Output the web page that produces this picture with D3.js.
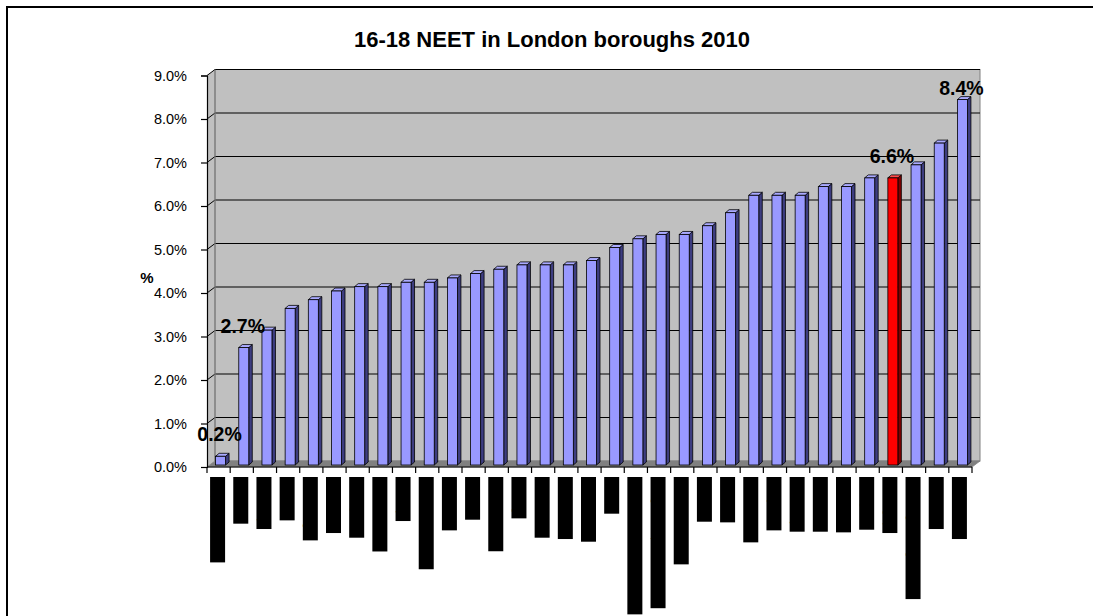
<!DOCTYPE html>
<html>
<head>
<meta charset="utf-8">
<script src="https://cdn.jsdelivr.net/npm/d3@7"></script>
<style>
  html, body { margin: 0; padding: 0; background: #fff; overflow: hidden; }
  svg { display: block; font-family: Arial, "Liberation Sans", Helvetica, sans-serif; }
</style>
</head>
<body>
<svg id="chart" width="1093" height="616"></svg>
<script>
// ---- data ----
const chartTitle = "16-18 NEET in London boroughs 2010";
const yAxisTitle = "%";
const categories = [
  "City of London", "Harrow", "Bromley", "Barnet", "Redbridge", "Havering",
  "Hillingdon", "Westminster", "Bexley", "Waltham Forest", "Camden", "Sutton",
  "Wandsworth", "Ealing", "Hounslow", "Lewisham", "Southwark", "Brent",
  "Hammersmith & Fulham", "Kingston upon Thames", "Tower Hamlets", "Enfield",
  "Merton", "Greenwich", "Croydon", "Hackney", "Lambeth", "Newham",
  "Islington", "Haringey", "Barking & Dagenham", "Chelsea", "Richmond"
];
const values = [
  0.2, 2.7, 3.1, 3.6, 3.8, 4.0, 4.1, 4.1, 4.2, 4.2, 4.3, 4.4,
  4.5, 4.6, 4.6, 4.6, 4.7, 5.0, 5.2, 5.3, 5.3, 5.5, 5.8, 6.2,
  6.2, 6.2, 6.4, 6.4, 6.6, 6.6, 6.9, 7.4, 8.4
];
const highlightedCategories = ["Haringey"];
const labelledCategories = ["City of London", "Harrow", "Haringey", "Richmond"];
const yTickValues = [0, 1, 2, 3, 4, 5, 6, 7, 8, 9];

// ---- layout ----
const svg = d3.select("#chart");
const W = 1093, H = 616;
const plot = { left: 207, right: 972, top: 75.5, bottom: 467 };
const depth = { dx: 8, dy: -6 };      // back wall offset
const barDepth = { dx: 3.5, dy: -3 }; // bar side/top depth
const barW = 10;

const data = categories.map((c, i) => ({ name: c, value: values[i] }));

const x = d3.scaleBand().domain(categories).range([plot.left, plot.right]).paddingInner(0).paddingOuter(0);
const y = d3.scaleLinear().domain([0, 9]).range([plot.bottom, plot.top]);

// outer border
svg.append("rect").attr("x", 7).attr("y", 7).attr("width", W + 20).attr("height", H + 20)
  .attr("fill", "#fff").attr("stroke", "#000").attr("stroke-width", 2);

// title
svg.append("text").attr("x", 552).attr("y", 46.5).attr("text-anchor", "middle")
  .attr("font-size", 22).attr("font-weight", "bold").attr("fill", "#000").text(chartTitle);

// ---- 3D walls ----
const bx0 = plot.left + depth.dx, bx1 = plot.right + depth.dx;
const by0 = plot.top + depth.dy, by1 = plot.bottom + depth.dy;
// left side wall
svg.append("path")
  .attr("d", `M${plot.left},${plot.top} L${bx0},${by0} L${bx0},${by1} L${plot.left},${plot.bottom} Z`)
  .attr("fill", "#c0c0c0").attr("stroke", "none");
// back wall
svg.append("rect").attr("x", bx0).attr("y", by0).attr("width", bx1 - bx0).attr("height", by1 - by0)
  .attr("fill", "#c0c0c0").attr("stroke", "#808080").attr("stroke-width", 1);
// floor
svg.append("path")
  .attr("d", `M${plot.left},${plot.bottom} L${bx0},${by1} L${bx1},${by1} L${plot.right},${plot.bottom} Z`)
  .attr("fill", "#808080").attr("stroke", "#808080").attr("stroke-width", 0.8);

// gridlines (back wall + side wall)
const grid = svg.append("g");
yTickValues.filter(v => v > 0).forEach(v => {
  grid.append("line").attr("x1", bx0).attr("x2", bx1).attr("y1", y(v) + depth.dy).attr("y2", y(v) + depth.dy)
    .attr("stroke", "#000").attr("stroke-width", 1);
  grid.append("line").attr("x1", plot.left).attr("x2", bx0).attr("y1", y(v)).attr("y2", y(v) + depth.dy)
    .attr("stroke", "#000").attr("stroke-width", 1);
});
// left edge of back wall
svg.append("line").attr("x1", bx0).attr("x2", bx0).attr("y1", by0).attr("y2", by1)
  .attr("stroke", "#808080").attr("stroke-width", 1.2);

// ---- bars ----
const bars = svg.append("g");
data.forEach(d => {
  const hl = highlightedCategories.includes(d.name);
  const front = hl ? "#ff0000" : "#9999ff";
  const side = hl ? "#800000" : "#3d3d80";
  const top = hl ? "#ff4d4d" : "#aaaaff";
  const cx = x(d.name) + x.bandwidth() / 2 + 2;
  const x0 = cx - barW / 2, x1 = cx + barW / 2;
  const yb = y(0) - 2, yt = y(d.value) - 2;
  const ddx = barDepth.dx, ddy = barDepth.dy;
  bars.append("path")
    .attr("d", `M${x1},${yt} L${x1 + ddx},${yt + ddy} L${x1 + ddx},${yb + ddy} L${x1},${yb} Z`)
    .attr("fill", side).attr("stroke", "#000").attr("stroke-width", 0.8).attr("stroke-linejoin", "round");
  bars.append("path")
    .attr("d", `M${x0},${yt} L${x0 + ddx},${yt + ddy} L${x1 + ddx},${yt + ddy} L${x1},${yt} Z`)
    .attr("fill", top).attr("stroke", "#000").attr("stroke-width", 0.8).attr("stroke-linejoin", "round");
  bars.append("rect").attr("x", x0).attr("y", yt).attr("width", barW).attr("height", yb - yt)
    .attr("fill", front).attr("stroke", "#000").attr("stroke-width", 0.8);
});

// ---- axes ----
const yAxis = d3.axisLeft(y).tickValues(yTickValues).tickSize(6).tickPadding(14)
  .tickFormat(d => d.toFixed(1) + "%");
const gy = svg.append("g").attr("transform", `translate(${plot.left},0)`).call(yAxis);
gy.select(".domain").attr("stroke", "#000").attr("stroke-width", 1.2);
gy.selectAll(".tick line").attr("stroke", "#000").attr("stroke-width", 1.2);
gy.selectAll(".tick text").attr("font-size", 14.5).attr("fill", "#000")
  .attr("font-family", "Arial, 'Liberation Sans', sans-serif");

// x axis line + boundary ticks
const gx = svg.append("g");
gx.append("line").attr("x1", plot.left).attr("x2", plot.right).attr("y1", plot.bottom).attr("y2", plot.bottom)
  .attr("stroke", "#000").attr("stroke-width", 1.2);
const boundaries = categories.map(c => x(c)).concat([x(categories[categories.length - 1]) + x.bandwidth()]);
gx.selectAll("line.tk").data(boundaries).join("line").attr("class", "tk")
  .attr("x1", d => d).attr("x2", d => d).attr("y1", plot.bottom).attr("y2", plot.bottom + 6)
  .attr("stroke", "#000").attr("stroke-width", 1.2);

// category labels (rotated, shown as solid black blocks as in the reference)
const catG = svg.append("g");
data.forEach(d => {
  const cx = x(d.name) + x.bandwidth() / 2 - 1;
  const g = catG.append("g").attr("transform", `translate(${cx},477) rotate(90)`);
  const rect = g.append("rect").attr("fill", "#000");
  const t = g.append("text").attr("x", 3.5).attr("y", 4).attr("font-size", 12)
    .attr("font-family", "Arial, 'Liberation Sans', sans-serif").attr("fill", "#000").text(d.name);
  const len = t.node().getComputedTextLength();
  rect.attr("x", 0).attr("y", -7.5).attr("width", len + 8).attr("height", 15);
});

// y axis title
svg.append("text").attr("x", 147).attr("y", 283).attr("text-anchor", "middle")
  .attr("font-size", 15).attr("font-weight", "bold").attr("fill", "#000").text(yAxisTitle);

// data labels
const labG = svg.append("g");
data.filter(d => labelledCategories.includes(d.name)).forEach(d => {
  const cx = x(d.name) + x.bandwidth() / 2 + 1;
  const yy = Math.max(y(d.value) - 2 - 15, 95);
  labG.append("text").attr("x", cx).attr("y", yy).attr("text-anchor", "middle")
    .attr("font-size", 19.5).attr("font-weight", "bold").attr("fill", "#000")
    .text(d.value.toFixed(1) + "%");
});
</script>
</body>
</html>
